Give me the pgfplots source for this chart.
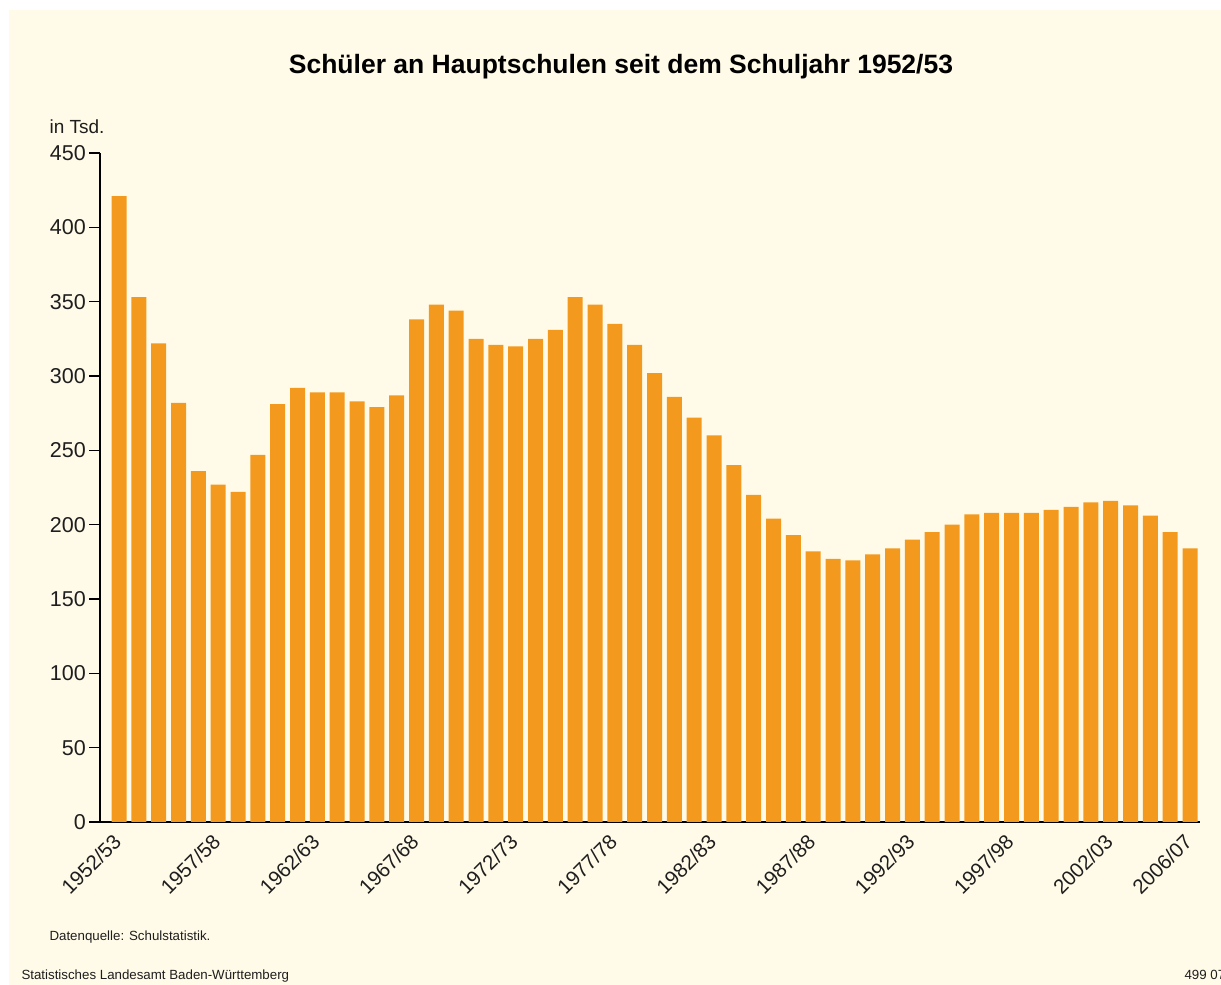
\documentclass[border=0pt]{standalone}
\usepackage{pgfplots}
\pgfplotsset{compat=1.18}
\usepackage{pgfplotstable}
\usepackage{fontspec}
\setmainfont{Liberation Sans}
\definecolor{bg}{RGB}{255,251,232}
\definecolor{barc}{RGB}{243,153,30}
\definecolor{txt}{RGB}{30,30,30}
\pgfplotstableread{
x y
0 421
1 353
2 322
3 282
4 236
5 227
6 222
7 247
8 281
9 292
10 289
11 289
12 283
13 279
14 287
15 338
16 348
17 344
18 325
19 321
20 320
21 325
22 331
23 353
24 348
25 335
26 321
27 302
28 286
29 272
30 260
31 240
32 220
33 204
34 193
35 182
36 177
37 176
38 180
39 184
40 190
41 195
42 200
43 207
44 208
45 208
46 208
47 210
48 212
49 215
50 216
51 213
52 206
53 195
54 184
}\datatable
\begin{document}
\begin{tikzpicture}[x=1pt,y=1pt]
\useasboundingbox (0,0) rectangle (1221,985);
\path[fill=white] (0,0) rectangle (1221,985);
\path[fill=bg] (9,0) rectangle (1221,975);
\node[font=\fontsize{26.5}{30}\selectfont\bfseries, text=black] at (621,918) {Schüler an Hauptschulen seit dem Schuljahr 1952/53};
\node[font=\fontsize{19}{22}\selectfont, text=txt, anchor=base west] at (46,851) {in Tsd.};
\node[font=\fontsize{13.3}{15}\selectfont, text=txt, anchor=base west] at (46,44) {Datenquelle: Schulstatistik.};
\node[font=\fontsize{13.3}{15}\selectfont, text=txt, anchor=base west] at (18,5) {Statistisches Landesamt Baden-Württemberg};
\node[font=\fontsize{13.3}{15}\selectfont, text=txt, anchor=base west] at (1181,5) {499 07};
\begin{axis}[
  at={(100pt,163pt)}, anchor=south west,
  scale only axis, width=1100pt, height=669pt,
  xmin=-0.96, xmax=54.5, ymin=0, ymax=450,
  axis x line=bottom, axis y line=left,
  axis line style={-, line width=1.4pt, color=black},
  ytick={0,50,...,450},
  tick align=outside,
  ytick style={line width=1.4pt, color=black},
  major tick length=11pt,
  xtick={0,5,10,15,20,25,30,35,40,45,50,54},
  xticklabels={1952/53,1957/58,1962/63,1967/68,1972/73,1977/78,1982/83,1987/88,1992/93,1997/98,2002/03,2006/07},
  xtick style={draw=none},
  xticklabel style={xshift=-7pt, yshift=2pt, rotate=45, anchor=north east, font=\fontsize{20.5}{24}\selectfont, text=txt, inner sep=1pt},
  yticklabel style={font=\fontsize{21.5}{24}\selectfont, text=txt, inner sep=2pt, xshift=-1pt},
  /pgf/number format/assume math mode=true,
  clip=false,
]
\addplot[ybar, bar width=15pt, fill=barc, draw=none] table[x=x,y=y] {\datatable};
\end{axis}
\end{tikzpicture}
\end{document}
